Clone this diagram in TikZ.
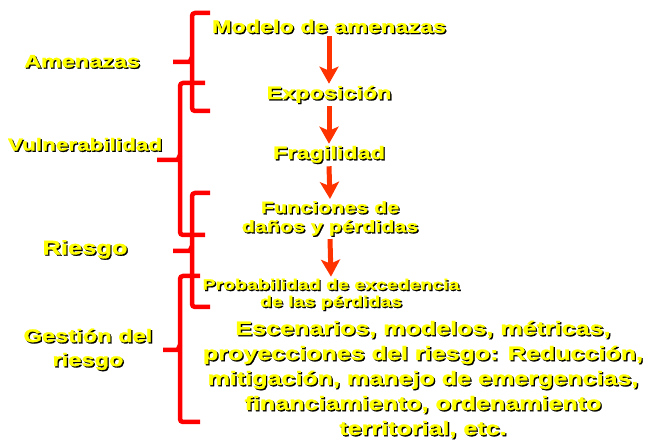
\documentclass[tikz,border=0pt]{standalone}
\usepackage{fontspec}
\setmainfont{Liberation Sans}[FakeStretch=1.3,FakeBold=1.4]
\usepackage{xcolor}
\usetikzlibrary{arrows.meta}
\definecolor{bracered}{RGB}{255,0,0}
\definecolor{arrowred}{RGB}{255,51,0}
\definecolor{txtyellow}{RGB}{255,255,0}
% text with a black drop shadow
\newcommand{\shd}[1]{\makebox[0pt][l]{\kern1.3pt\raisebox{-1.3pt}{\color{black}#1}}#1}
\newcommand{\fsz}[2]{\fontsize{#1}{#2}\selectfont}
% brace: x, top, bottom, middle, right end, left end
\newcommand{\redbrace}[6]{%
  \draw[brc] (#5,#2) -- (#1,#2) -- (#1,#3) -- (#5,#3);
  \draw[brc] (#1,#4-5) to[out=-100,in=0] (#1-6,#4) -- (#6,#4);
}

\begin{document}
\begin{tikzpicture}[x=1pt,y=-1pt,
    txt/.style={text=txtyellow,font=\bfseries,inner sep=2pt,align=center},
    arr/.style={draw=arrowred,line width=5pt,-{Stealth[length=17pt,width=19pt,inset=4pt]}},
    brc/.style={draw=bracered,line width=4.5pt,rounded corners=3pt}]
\useasboundingbox (0,0) rectangle (649,443);

% chain of steps
\node[txt,font=\bfseries\fsz{18}{22}] (model) at (329,27) {\shd{Modelo de amenazas}};
\node[txt,font=\bfseries\fsz{18}{22}] (expo) at (329,95) {\shd{Exposición}};
\node[txt,font=\bfseries\fsz{18}{22}] (frag) at (329,155) {\shd{Fragilidad}};
\node[txt,font=\bfseries\fsz{16.5}{19}] (func) at (330,219) {\shd{Funciones de}\\\shd{daños y pérdidas}};
\node[txt,font=\bfseries\fsz{15}{17}] (prob) at (331,295) {\shd{Probabilidad de excedencia}\\\shd{de las pérdidas}};
\node[txt,font=\bfseries\fsz{19.3}{25}] (esc) at (423,380) {\shd{Escenarios, modelos, métricas,}\\\shd{proyecciones del riesgo: Reducción,}\\\shd{mitigación, manejo de emergencias,}\\\shd{financiamiento, ordenamiento}\\\shd{territorial, etc.}};

\draw[arr] (model.south) -- (expo.north);
\draw[arr] (expo.south) -- (frag.north);
\draw[arr] (frag.south) -- (func.north);
\draw[arr] (func.south) -- (prob.north);

% labels on the left
\node[txt,font=\bfseries\fsz{18}{22}] (amen) at (82,62) {\shd{Amenazas}};
\node[txt,font=\bfseries\fsz{17.3}{22}] (vuln) at (85,145) {\shd{Vulnerabilidad}};
\node[txt,font=\bfseries\fsz{19.6}{24}] (ries) at (85,250) {\shd{Riesgo}};
\node[txt,font=\bfseries\fsz{18.2}{24}] (gest) at (88,350) {\shd{Gestión del}\\\shd{riesgo}};

% braces
\redbrace{192}{13}{111}{62}{210}{173}
\redbrace{180}{83}{235}{160}{205}{157}
\redbrace{192}{193}{307}{251}{210}{173}
\redbrace{180}{276}{422}{350}{200}{163}
\end{tikzpicture}
\end{document}
